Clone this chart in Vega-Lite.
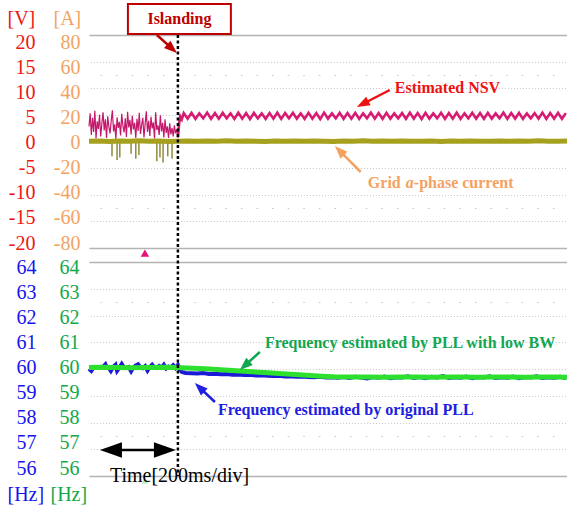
{
"$schema": "https://vega.github.io/schema/vega-lite/v6.json",
"autosize": {"type": "none"},
"padding": {"left": 89, "top": 35, "right": 0, "bottom": 33},
"width": 478,
"height": 441,
"background": "white",
"config": {"view": {"stroke": null}},
"resolve": {"scale": {"y": "independent"}, "axis": {"y": "independent"}},
"datasets": {
"nsvPre": [{"t":-28,"v":3.2},{"t":-25,"v":5.8},{"t":-22,"v":1.5},{"t":-19,"v":4.9},{"t":-16,"v":2.1},{"t":-13,"v":6.3},{"t":-10,"v":0.8},{"t":-7,"v":4.2},{"t":-4,"v":2.7},{"t":-1,"v":5.5},{"t":2,"v":1.2},{"t":5,"v":3.8},{"t":8,"v":6.0},{"t":11,"v":2.4},{"t":14,"v":4.6},{"t":17,"v":0.9},{"t":20,"v":5.2},{"t":23,"v":3.1},{"t":26,"v":1.8},{"t":29,"v":4.4},{"t":32,"v":6.4},{"t":35,"v":2.2},{"t":38,"v":3.6},{"t":41,"v":0.7},{"t":44,"v":5.0},{"t":47,"v":2.9},{"t":50,"v":4.1},{"t":53,"v":1.4},{"t":56,"v":5.7},{"t":59,"v":3.3},{"t":62,"v":2.0},{"t":65,"v":4.8},{"t":68,"v":1.1},{"t":71,"v":6.1},{"t":74,"v":3.0},{"t":77,"v":4.5},{"t":80,"v":1.6},{"t":83,"v":5.3},{"t":86,"v":2.6},{"t":89,"v":3.9},{"t":92,"v":0.9},{"t":95,"v":4.7},{"t":98,"v":2.3},{"t":101,"v":5.9},{"t":104,"v":1.7},{"t":107,"v":3.5},{"t":110,"v":4.9},{"t":113,"v":1.0},{"t":116,"v":3.7},{"t":119,"v":6.2},{"t":122,"v":2.1},{"t":125,"v":4.3},{"t":128,"v":1.3},{"t":131,"v":5.1},{"t":134,"v":2.8},{"t":137,"v":4.0},{"t":140,"v":0.8},{"t":143,"v":6.0},{"t":146,"v":2.5},{"t":149,"v":3.4},{"t":152,"v":1.5},{"t":155,"v":5.4},{"t":158,"v":2.2},{"t":161,"v":3.9},{"t":164,"v":1.0},{"t":167,"v":4.6},{"t":170,"v":1.9},{"t":173,"v":3.2},{"t":176,"v":0.9},{"t":179,"v":3.8},{"t":182,"v":1.6},{"t":185,"v":2.9},{"t":188,"v":1.2},{"t":191,"v":3.4},{"t":194,"v":1.8},{"t":197,"v":2.6},{"t":200,"v":1.0}],
"nsvPost": [{"t":200,"v":1.0},{"t":203,"v":3.6},{"t":206,"v":5.2},{"t":210,"v":4.6},{"t":215,"v":5.85},{"t":225,"v":4.75},{"t":235,"v":5.9},{"t":245,"v":4.7},{"t":255,"v":5.8},{"t":265,"v":4.8},{"t":275,"v":5.95},{"t":285,"v":4.7},{"t":295,"v":5.85},{"t":305,"v":4.75},{"t":315,"v":5.9},{"t":325,"v":4.8},{"t":335,"v":5.8},{"t":345,"v":4.7},{"t":355,"v":5.95},{"t":365,"v":4.75},{"t":375,"v":5.85},{"t":385,"v":4.65},{"t":395,"v":5.9},{"t":405,"v":4.8},{"t":415,"v":5.8},{"t":425,"v":4.7},{"t":435,"v":5.85},{"t":445,"v":4.75},{"t":455,"v":5.95},{"t":465,"v":4.7},{"t":475,"v":5.85},{"t":485,"v":4.8},{"t":495,"v":5.9},{"t":505,"v":4.75},{"t":515,"v":5.8},{"t":525,"v":4.7},{"t":535,"v":5.9},{"t":545,"v":4.75},{"t":555,"v":5.85},{"t":565,"v":4.65},{"t":575,"v":5.95},{"t":585,"v":4.75},{"t":595,"v":5.8},{"t":605,"v":4.8},{"t":615,"v":5.9},{"t":625,"v":4.7},{"t":635,"v":5.85},{"t":645,"v":4.75},{"t":655,"v":5.9},{"t":665,"v":4.7},{"t":675,"v":5.8},{"t":685,"v":4.8},{"t":695,"v":5.95},{"t":705,"v":4.75},{"t":715,"v":5.85},{"t":725,"v":4.7},{"t":735,"v":5.9},{"t":745,"v":4.75},{"t":755,"v":5.8},{"t":765,"v":4.8},{"t":775,"v":5.85},{"t":785,"v":4.7},{"t":795,"v":5.95},{"t":805,"v":4.75},{"t":815,"v":5.85},{"t":825,"v":4.65},{"t":835,"v":5.9},{"t":845,"v":4.75},{"t":855,"v":5.8},{"t":865,"v":4.8},{"t":875,"v":5.9},{"t":885,"v":4.7},{"t":895,"v":5.85},{"t":905,"v":4.75},{"t":915,"v":5.95},{"t":925,"v":4.7},{"t":935,"v":5.8},{"t":945,"v":4.8},{"t":955,"v":5.9},{"t":965,"v":4.75},{"t":975,"v":5.85},{"t":985,"v":4.7},{"t":995,"v":5.9},{"t":1005,"v":4.75},{"t":1015,"v":5.8},{"t":1025,"v":4.8},{"t":1035,"v":5.95},{"t":1045,"v":4.7},{"t":1055,"v":5.85},{"t":1065,"v":4.75},{"t":1075,"v":5.9},{"t":1085,"v":4.7},{"t":1095,"v":5.8},{"t":1105,"v":4.8},{"t":1115,"v":5.85},{"t":1125,"v":4.75},{"t":1135,"v":5.95},{"t":1145,"v":4.7},{"t":1155,"v":5.85},{"t":1165,"v":4.75},{"t":1175,"v":5.9},{"t":1185,"v":4.7},{"t":1195,"v":5.85}],
"current": [{"t":-28,"a":1.0},{"t":0,"a":1.2},{"t":25,"a":0.8},{"t":50,"a":1.1},{"t":75,"a":0.9},{"t":100,"a":1.3},{"t":125,"a":0.9},{"t":150,"a":1.1},{"t":175,"a":0.8},{"t":200,"a":1.0},{"t":225,"a":1.2},{"t":250,"a":0.9},{"t":275,"a":1.1},{"t":300,"a":1.0},{"t":325,"a":1.3},{"t":350,"a":0.9},{"t":375,"a":1.1},{"t":400,"a":1.0},{"t":425,"a":0.8},{"t":450,"a":1.2},{"t":475,"a":1.0},{"t":500,"a":1.1},{"t":525,"a":0.9},{"t":550,"a":1.2},{"t":575,"a":1.0},{"t":600,"a":0.8},{"t":625,"a":1.1},{"t":650,"a":1.0},{"t":675,"a":1.3},{"t":700,"a":0.9},{"t":725,"a":1.1},{"t":750,"a":1.0},{"t":775,"a":1.2},{"t":800,"a":0.9},{"t":825,"a":1.0},{"t":850,"a":1.1},{"t":875,"a":0.8},{"t":900,"a":1.2},{"t":925,"a":1.0},{"t":950,"a":1.1},{"t":975,"a":0.9},{"t":1000,"a":1.0},{"t":1025,"a":1.2},{"t":1050,"a":0.9},{"t":1075,"a":1.1},{"t":1100,"a":1.0},{"t":1125,"a":1.3},{"t":1150,"a":0.9},{"t":1175,"a":1.0},{"t":1198,"a":1.1}],
"spikes": [{"t":31,"lo":-11},{"t":44,"lo":-14},{"t":51,"lo":-12},{"t":80,"lo":-9},{"t":92,"lo":-13},{"t":100,"lo":-10},{"t":146,"lo":-15},{"t":154,"lo":-12},{"t":162,"lo":-16},{"t":174,"lo":-11},{"t":185,"lo":-13}],
"blue": [{"t":-28,"f":59.95},{"t":-22,"f":59.86},{"t":-16,"f":60.0},{"t":-10,"f":60.02},{"t":-4,"f":59.98},{"t":2,"f":60.0},{"t":8,"f":60.03},{"t":14,"f":60.13},{"t":18,"f":59.99},{"t":22,"f":60.0},{"t":28,"f":59.86},{"t":34,"f":60.02},{"t":40,"f":60.11},{"t":44,"f":59.87},{"t":50,"f":60.0},{"t":56,"f":60.14},{"t":62,"f":60.0},{"t":68,"f":59.98},{"t":74,"f":60.02},{"t":80,"f":59.85},{"t":86,"f":60.0},{"t":92,"f":60.08},{"t":98,"f":60.13},{"t":104,"f":60.0},{"t":110,"f":59.97},{"t":116,"f":60.05},{"t":122,"f":59.88},{"t":128,"f":60.02},{"t":134,"f":60.11},{"t":140,"f":60.0},{"t":146,"f":59.98},{"t":152,"f":60.06},{"t":158,"f":60.0},{"t":164,"f":60.11},{"t":170,"f":59.96},{"t":176,"f":60.04},{"t":182,"f":60.0},{"t":188,"f":60.09},{"t":194,"f":59.98},{"t":200,"f":60.1},{"t":205,"f":59.9},{"t":210,"f":59.82},{"t":220,"f":59.78},{"t":235,"f":59.77},{"t":250,"f":59.76},{"t":265,"f":59.78},{"t":280,"f":59.74},{"t":295,"f":59.75},{"t":310,"f":59.73},{"t":325,"f":59.74},{"t":340,"f":59.71},{"t":355,"f":59.72},{"t":370,"f":59.70},{"t":385,"f":59.71},{"t":400,"f":59.68},{"t":415,"f":59.69},{"t":430,"f":59.67},{"t":445,"f":59.66},{"t":460,"f":59.67},{"t":475,"f":59.64},{"t":490,"f":59.65},{"t":505,"f":59.63},{"t":520,"f":59.64},{"t":535,"f":59.62},{"t":550,"f":59.61},{"t":565,"f":59.63},{"t":580,"f":59.60},{"t":595,"f":59.61},{"t":610,"f":59.59},{"t":625,"f":59.62},{"t":640,"f":59.58},{"t":655,"f":59.63},{"t":670,"f":59.60},{"t":685,"f":59.56},{"t":700,"f":59.62},{"t":715,"f":59.59},{"t":730,"f":59.64},{"t":745,"f":59.57},{"t":760,"f":59.61},{"t":775,"f":59.60},{"t":790,"f":59.65},{"t":805,"f":59.58},{"t":820,"f":59.62},{"t":835,"f":59.57},{"t":850,"f":59.63},{"t":865,"f":59.60},{"t":880,"f":59.66},{"t":895,"f":59.58},{"t":910,"f":59.61},{"t":925,"f":59.59},{"t":940,"f":59.64},{"t":955,"f":59.57},{"t":970,"f":59.62},{"t":985,"f":59.60},{"t":1000,"f":59.65},{"t":1015,"f":59.58},{"t":1030,"f":59.61},{"t":1045,"f":59.59},{"t":1060,"f":59.64},{"t":1075,"f":59.57},{"t":1090,"f":59.62},{"t":1105,"f":59.60},{"t":1120,"f":59.65},{"t":1135,"f":59.58},{"t":1150,"f":59.61},{"t":1165,"f":59.59},{"t":1180,"f":59.63},{"t":1195,"f":59.58}],
"green": [{"t":-28,"f":60.0},{"t":0,"f":60.01},{"t":40,"f":60.0},{"t":80,"f":59.99},{"t":120,"f":60.0},{"t":160,"f":60.01},{"t":200,"f":60.0},{"t":210,"f":59.99},{"t":240,"f":59.97},{"t":270,"f":59.95},{"t":300,"f":59.92},{"t":330,"f":59.89},{"t":360,"f":59.86},{"t":390,"f":59.83},{"t":420,"f":59.80},{"t":450,"f":59.77},{"t":480,"f":59.74},{"t":510,"f":59.71},{"t":540,"f":59.68},{"t":570,"f":59.65},{"t":600,"f":59.63},{"t":650,"f":59.62},{"t":690,"f":59.62},{"t":730,"f":59.61},{"t":770,"f":59.62},{"t":810,"f":59.62},{"t":850,"f":59.61},{"t":890,"f":59.62},{"t":930,"f":59.62},{"t":970,"f":59.61},{"t":1010,"f":59.62},{"t":1050,"f":59.62},{"t":1090,"f":59.61},{"t":1130,"f":59.62},{"t":1170,"f":59.62},{"t":1198,"f":59.61}]
},
"layer": [
{"data": {"name": "nsvPre"}, "mark": {"type": "point", "opacity": 0},
 "encoding": {
  "x": {"field": "t", "type": "quantitative", "scale": {"domain": [-28, 1198], "nice": false, "zero": false},
        "axis": {"orient": "bottom", "values": [0, 200, 400, 600, 800, 1000], "labels": false, "ticks": false, "domain": false, "grid": true, "gridColor": "#C4C4C4", "gridDash": [1, 2], "gridWidth": 1, "title": null}},
  "y": {"field": "v", "type": "quantitative", "scale": {"domain": [-20, 20], "range": [213, 0], "nice": false, "zero": false},
        "axis": {"orient": "left", "values": [-20, -15, -12.5, -10, -5, 0, 5, 10, 12.5, 15, 20], "labels": false, "ticks": false, "domain": false, "grid": true, "title": null,
                 "gridColor": {"condition": {"test": "abs(datum.value) == 20", "value": "#B4B4B4"}, "value": "#C6C6C6"},
                 "gridDash": {"condition": [{"test": "abs(datum.value) == 20", "value": []}, {"test": "abs(datum.value) == 12.5", "value": [1.5, 14.1]}], "value": [1, 2]},
                 "gridWidth": {"condition": {"test": "abs(datum.value) == 20", "value": 1.5}, "value": 1},
                 "gridDashOffset": 4.6}}
 }},
{"data": {"name": "blue"}, "mark": {"type": "point", "opacity": 0},
 "encoding": {
  "x": {"field": "t", "type": "quantitative", "scale": {"domain": [-28, 1198], "nice": false, "zero": false}, "axis": null},
  "y": {"field": "f", "type": "quantitative", "scale": {"domain": [56, 64], "range": [441, 227], "nice": false, "zero": false},
        "axis": {"orient": "left", "values": [56, 57, 57.5, 58, 59, 60, 61, 62, 62.5, 63, 64], "labels": false, "ticks": false, "domain": false, "grid": true, "title": null,
                 "gridColor": {"condition": {"test": "datum.value == 56 || datum.value == 64", "value": "#B4B4B4"}, "value": "#C6C6C6"},
                 "gridDash": {"condition": [{"test": "datum.value == 56 || datum.value == 64", "value": []}, {"test": "datum.value == 57.5 || datum.value == 62.5", "value": [1.5, 14.1]}], "value": [1, 2]},
                 "gridWidth": {"condition": {"test": "datum.value == 56 || datum.value == 64", "value": 1.5}, "value": 1},
                 "gridDashOffset": 4.6}}
 }},
{"data": {"values": [{"t": -28, "t2": 1198, "v": -21.39, "v2": -23.58}]}, "mark": {"type": "rect", "color": "white"},
 "encoding": {
  "x": {"field": "t", "type": "quantitative", "scale": {"domain": [-28, 1198], "nice": false, "zero": false}, "axis": null},
  "x2": {"field": "t2"},
  "y": {"field": "v", "type": "quantitative", "scale": {"domain": [-20, 20], "range": [208, 7], "nice": false, "zero": false}, "axis": null},
  "y2": {"field": "v2"}
 }},
{"data": {"name": "nsvPre"}, "mark": {"type": "line", "color": "#C4186A", "strokeWidth": 1.2},
 "encoding": {
  "x": {"field": "t", "type": "quantitative", "scale": {"domain": [-28, 1198], "nice": false, "zero": false}, "axis": null},
  "y": {"field": "v", "type": "quantitative", "scale": {"domain": [-20, 20], "range": [208, 7], "nice": false, "zero": false},
        "axis": {"orient": "left", "offset": 54, "values": [20, 15, 10, 5, 0, -5, -10, -15, -20], "labelExpr": "'' + datum.value", "labelColor": "#F01414", "labelFont": "Liberation Serif, Times New Roman, serif", "labelFontSize": 20, "labelPadding": 0, "ticks": false, "tickSize": 0, "domain": false, "grid": false, "labelFlush": false, "labelOverlap": false,
                 "title": "[V]", "titleColor": "#F01414", "titleFont": "Liberation Serif, Times New Roman, serif", "titleFontSize": 20, "titleFontWeight": "normal", "titleAngle": 0, "titleAlign": "left", "titleBaseline": "alphabetic", "titleX": -28, "titleY": -11}}
 }},
{"data": {"name": "nsvPost"}, "mark": {"type": "line", "color": "#D81B72", "strokeWidth": 2.6},
 "encoding": {
  "x": {"field": "t", "type": "quantitative", "scale": {"domain": [-28, 1198], "nice": false, "zero": false}, "axis": null},
  "y": {"field": "v", "type": "quantitative", "scale": {"domain": [-20, 20], "range": [208, 7], "nice": false, "zero": false}, "axis": null}
 }},
{"data": {"name": "spikes"}, "mark": {"type": "rule", "color": "#8E8C3A", "strokeWidth": 1.5},
 "encoding": {
  "x": {"field": "t", "type": "quantitative", "scale": {"domain": [-28, 1198], "nice": false, "zero": false}, "axis": null},
  "y": {"field": "lo", "type": "quantitative", "scale": {"domain": [-80, 80], "range": [208, 7], "nice": false, "zero": false}, "axis": null},
  "y2": {"datum": 0}
 }},
{"data": {"name": "current"}, "mark": {"type": "line", "color": "#A5A11F", "strokeWidth": 5},
 "encoding": {
  "x": {"field": "t", "type": "quantitative", "scale": {"domain": [-28, 1198], "nice": false, "zero": false}, "axis": null},
  "y": {"field": "a", "type": "quantitative", "scale": {"domain": [-80, 80], "range": [208, 7], "nice": false, "zero": false},
        "axis": {"orient": "left", "offset": 9, "values": [80, 60, 40, 20, 0, -20, -40, -60, -80], "labelExpr": "'' + datum.value", "labelColor": "#F4A262", "labelFont": "Liberation Serif, Times New Roman, serif", "labelFontSize": 20, "labelPadding": 0, "ticks": false, "tickSize": 0, "domain": false, "grid": false, "labelFlush": false, "labelOverlap": false,
                 "title": "[A]", "titleColor": "#F4A262", "titleFont": "Liberation Serif, Times New Roman, serif", "titleFontSize": 20, "titleFontWeight": "normal", "titleAngle": 0, "titleAlign": "left", "titleBaseline": "alphabetic", "titleX": -27, "titleY": -11}}
 }},
{"data": {"name": "blue"}, "mark": {"type": "line", "color": "#1A1AD8", "strokeWidth": 4},
 "encoding": {
  "x": {"field": "t", "type": "quantitative", "scale": {"domain": [-28, 1198], "nice": false, "zero": false}, "axis": null},
  "y": {"field": "f", "type": "quantitative", "scale": {"domain": [56, 64], "range": [433, 232], "nice": false, "zero": false},
        "axis": {"orient": "left", "offset": 53, "values": [64, 63, 62, 61, 60, 59, 58, 57, 56], "labelColor": "#1414F0", "labelFont": "Liberation Serif, Times New Roman, serif", "labelFontSize": 20, "labelPadding": 0, "ticks": false, "tickSize": 0, "domain": false, "grid": false, "labelFlush": false, "labelOverlap": false,
                 "title": "[Hz]", "titleColor": "#1414F0", "titleFont": "Liberation Serif, Times New Roman, serif", "titleFontSize": 20, "titleFontWeight": "normal", "titleAngle": 0, "titleAlign": "left", "titleBaseline": "alphabetic", "titleX": -29, "titleY": 465}}
 }},
{"data": {"name": "green"}, "mark": {"type": "line", "color": "#2EE02E", "strokeWidth": 5},
 "encoding": {
  "x": {"field": "t", "type": "quantitative", "scale": {"domain": [-28, 1198], "nice": false, "zero": false}, "axis": null},
  "y": {"field": "f", "type": "quantitative", "scale": {"domain": [56, 64], "range": [433, 232], "nice": false, "zero": false},
        "axis": {"orient": "left", "offset": 10, "values": [64, 63, 62, 61, 60, 59, 58, 57, 56], "labelColor": "#12A84A", "labelFont": "Liberation Serif, Times New Roman, serif", "labelFontSize": 20, "labelPadding": 0, "ticks": false, "tickSize": 0, "domain": false, "grid": false, "labelFlush": false, "labelOverlap": false,
                 "title": "[Hz]", "titleColor": "#12A84A", "titleFont": "Liberation Serif, Times New Roman, serif", "titleFontSize": 20, "titleFontWeight": "normal", "titleAngle": 0, "titleAlign": "left", "titleBaseline": "alphabetic", "titleX": -29, "titleY": 465}}
 }},
{"data": {"values": [{"t": 200}]}, "mark": {"type": "rule", "color": "black", "strokeWidth": 2.5, "strokeDash": [3, 2.5]},
 "encoding": {
  "x": {"field": "t", "type": "quantitative", "scale": {"domain": [-28, 1198], "nice": false, "zero": false}, "axis": null}
 }},
{"data": {"values": [{"t": 115.4, "v": -22.0}]}, "mark": {"type": "point", "shape": "triangle-up", "filled": true, "size": 70, "color": "#E8107A", "opacity": 1},
 "encoding": {
  "x": {"field": "t", "type": "quantitative", "scale": {"domain": [-28, 1198], "nice": false, "zero": false}, "axis": null},
  "y": {"field": "v", "type": "quantitative", "scale": {"domain": [-20, 20], "range": [208, 7], "nice": false, "zero": false}, "axis": null}
 }},
{"data": {"values": [{"t": 115.4, "f": 55.48}]}, "mark": {"type": "point", "shape": "triangle-up", "filled": true, "size": 40, "color": "#B8F0B8", "opacity": 1},
 "encoding": {
  "x": {"field": "t", "type": "quantitative", "scale": {"domain": [-28, 1198], "nice": false, "zero": false}, "axis": null},
  "y": {"field": "f", "type": "quantitative", "scale": {"domain": [56, 64], "range": [433, 232], "nice": false, "zero": false}, "axis": null}
 }},
{"data": {"values": [{"t": 71.8, "t2": 335.9, "v": 21.6, "v2": 27.56}]}, "mark": {"type": "rect", "fill": "white", "stroke": "#C00000", "strokeWidth": 2},
 "encoding": {
  "x": {"field": "t", "type": "quantitative", "scale": {"domain": [-28, 1198], "nice": false, "zero": false}, "axis": null},
  "x2": {"field": "t2"},
  "y": {"field": "v", "type": "quantitative", "scale": {"domain": [-20, 20], "range": [208, 7], "nice": false, "zero": false}, "axis": null},
  "y2": {"field": "v2"}
 }},
{"data": {"values": [{"t": 146.1, "v": 21.4, "t2": 185.1, "v2": 18.67, "k": "island"}, {"t": 743.6, "v": 10.45, "t2": 673.8, "v2": 7.66, "k": "nsv"}, {"t": 669, "v": -5.87, "t2": 614.3, "v2": -1.61, "k": "cur"}]},
 "mark": {"type": "rule", "strokeWidth": 2.5},
 "encoding": {
  "x": {"field": "t", "type": "quantitative", "scale": {"domain": [-28, 1198], "nice": false, "zero": false}, "axis": null},
  "x2": {"field": "t2"},
  "y": {"field": "v", "type": "quantitative", "scale": {"domain": [-20, 20], "range": [208, 7], "nice": false, "zero": false}, "axis": null},
  "y2": {"field": "v2"},
  "color": {"field": "k", "type": "nominal", "scale": {"domain": ["island", "nsv", "cur", "lowbw", "orig", "time"], "range": ["#C00000", "#EE1111", "#F4A262", "#12A650", "#2020E0", "#000000"]}, "legend": null}
 }},
{"data": {"values": [{"t": 185.1, "v": 18.67}]}, "mark": {"type": "point", "shape": "M0,-1L0.75,1L-0.75,1Z", "angle": 132, "filled": true, "size": 169, "color": "#C00000", "opacity": 1},
 "encoding": {
  "x": {"field": "t", "type": "quantitative", "scale": {"domain": [-28, 1198], "nice": false, "zero": false}, "axis": null},
  "y": {"field": "v", "type": "quantitative", "scale": {"domain": [-20, 20], "range": [208, 7], "nice": false, "zero": false}, "axis": null}
 }},
{"data": {"values": [{"t": 673.8, "v": 7.66}]}, "mark": {"type": "point", "shape": "M0,-1L0.75,1L-0.75,1Z", "angle": 242.7, "filled": true, "size": 169, "color": "#EE1111", "opacity": 1},
 "encoding": {
  "x": {"field": "t", "type": "quantitative", "scale": {"domain": [-28, 1198], "nice": false, "zero": false}, "axis": null},
  "y": {"field": "v", "type": "quantitative", "scale": {"domain": [-20, 20], "range": [208, 7], "nice": false, "zero": false}, "axis": null}
 }},
{"data": {"values": [{"t": 614.3, "v": -1.61}]}, "mark": {"type": "point", "shape": "M0,-1L0.75,1L-0.75,1Z", "angle": 315, "filled": true, "size": 169, "color": "#F4A262", "opacity": 1},
 "encoding": {
  "x": {"field": "t", "type": "quantitative", "scale": {"domain": [-28, 1198], "nice": false, "zero": false}, "axis": null},
  "y": {"field": "v", "type": "quantitative", "scale": {"domain": [-20, 20], "range": [208, 7], "nice": false, "zero": false}, "axis": null}
 }},
{"data": {"values": [{"t": 121.8, "v": 24.58, "label": "Islanding", "k": "island"}, {"t": 756.4, "v": 10.75, "label": "Estimated NSV", "k": "nsv"}, {"t": 687.2, "v": -8.06, "label": "Grid", "k": "cur"}, {"t": 805.1, "v": -8.06, "label": "-phase current", "k": "cur"}]},
 "mark": {"type": "text", "font": "Liberation Serif, Times New Roman, serif", "fontSize": 16, "fontWeight": "bold", "align": "left", "baseline": "middle"},
 "encoding": {
  "x": {"field": "t", "type": "quantitative", "scale": {"domain": [-28, 1198], "nice": false, "zero": false}, "axis": null},
  "y": {"field": "v", "type": "quantitative", "scale": {"domain": [-20, 20], "range": [208, 7], "nice": false, "zero": false}, "axis": null},
  "text": {"field": "label"},
  "color": {"field": "k", "type": "nominal", "scale": {"domain": ["island", "nsv", "cur", "lowbw", "orig", "time"], "range": ["#C00000", "#EE1111", "#F4A262", "#12A650", "#2020E0", "#000000"]}, "legend": null}
 }},
{"data": {"values": [{"t": 784.6, "v": -8.06, "label": "a"}]},
 "mark": {"type": "text", "font": "Liberation Serif, Times New Roman, serif", "fontSize": 16, "fontWeight": "bold", "fontStyle": "italic", "align": "left", "baseline": "middle", "color": "#F4A262"},
 "encoding": {
  "x": {"field": "t", "type": "quantitative", "scale": {"domain": [-28, 1198], "nice": false, "zero": false}, "axis": null},
  "y": {"field": "v", "type": "quantitative", "scale": {"domain": [-20, 20], "range": [208, 7], "nice": false, "zero": false}, "axis": null},
  "text": {"field": "label"}
 }},
{"data": {"values": [{"t": 410.2, "f": 60.617, "t2": 371.3, "f2": 60.072, "k": "lowbw"}, {"t": 294.9, "f": 58.627, "t2": 255.6, "f2": 59.204, "k": "orig"}, {"t": 28.2, "f": 56.716, "t2": 166.7, "f2": 56.716, "k": "time"}]},
 "mark": {"type": "rule", "strokeWidth": 2.5},
 "encoding": {
  "x": {"field": "t", "type": "quantitative", "scale": {"domain": [-28, 1198], "nice": false, "zero": false}, "axis": null},
  "x2": {"field": "t2"},
  "y": {"field": "f", "type": "quantitative", "scale": {"domain": [56, 64], "range": [433, 232], "nice": false, "zero": false}, "axis": null},
  "y2": {"field": "f2"},
  "color": {"field": "k", "type": "nominal", "scale": {"domain": ["island", "nsv", "cur", "lowbw", "orig", "time"], "range": ["#C00000", "#EE1111", "#F4A262", "#12A650", "#2020E0", "#000000"]}, "legend": null}
 }},
{"data": {"values": [{"t": 371.3, "f": 60.072}]}, "mark": {"type": "point", "shape": "M0,-1L0.75,1L-0.75,1Z", "angle": 228, "filled": true, "size": 169, "color": "#12A650", "opacity": 1},
 "encoding": {
  "x": {"field": "t", "type": "quantitative", "scale": {"domain": [-28, 1198], "nice": false, "zero": false}, "axis": null},
  "y": {"field": "f", "type": "quantitative", "scale": {"domain": [56, 64], "range": [433, 232], "nice": false, "zero": false}, "axis": null}
 }},
{"data": {"values": [{"t": 255.6, "f": 59.204}]}, "mark": {"type": "point", "shape": "M0,-1L0.75,1L-0.75,1Z", "angle": 313.5, "filled": true, "size": 169, "color": "#2020E0", "opacity": 1},
 "encoding": {
  "x": {"field": "t", "type": "quantitative", "scale": {"domain": [-28, 1198], "nice": false, "zero": false}, "axis": null},
  "y": {"field": "f", "type": "quantitative", "scale": {"domain": [56, 64], "range": [433, 232], "nice": false, "zero": false}, "axis": null}
 }},
{"data": {"values": [{"t": 28.2, "f": 56.716}]}, "mark": {"type": "point", "shape": "M0,-1L0.7,1L-0.7,1Z", "angle": 270, "filled": true, "size": 484, "color": "#000000", "opacity": 1},
 "encoding": {
  "x": {"field": "t", "type": "quantitative", "scale": {"domain": [-28, 1198], "nice": false, "zero": false}, "axis": null},
  "y": {"field": "f", "type": "quantitative", "scale": {"domain": [56, 64], "range": [433, 232], "nice": false, "zero": false}, "axis": null}
 }},
{"data": {"values": [{"t": 166.7, "f": 56.716}]}, "mark": {"type": "point", "shape": "M0,-1L0.7,1L-0.7,1Z", "angle": 90, "filled": true, "size": 484, "color": "#000000", "opacity": 1},
 "encoding": {
  "x": {"field": "t", "type": "quantitative", "scale": {"domain": [-28, 1198], "nice": false, "zero": false}, "axis": null},
  "y": {"field": "f", "type": "quantitative", "scale": {"domain": [56, 64], "range": [433, 232], "nice": false, "zero": false}, "axis": null}
 }},
{"data": {"values": [{"t": 423.1, "f": 60.98, "label": "Frequency estimated by PLL with low BW", "k": "lowbw"}, {"t": 302.6, "f": 58.29, "label": "Frequency estimated by original PLL", "k": "orig"}]},
 "mark": {"type": "text", "font": "Liberation Serif, Times New Roman, serif", "fontSize": 16, "fontWeight": "bold", "align": "left", "baseline": "middle"},
 "encoding": {
  "x": {"field": "t", "type": "quantitative", "scale": {"domain": [-28, 1198], "nice": false, "zero": false}, "axis": null},
  "y": {"field": "f", "type": "quantitative", "scale": {"domain": [56, 64], "range": [433, 232], "nice": false, "zero": false}, "axis": null},
  "text": {"field": "label"},
  "color": {"field": "k", "type": "nominal", "scale": {"domain": ["island", "nsv", "cur", "lowbw", "orig", "time"], "range": ["#C00000", "#EE1111", "#F4A262", "#12A650", "#2020E0", "#000000"]}, "legend": null}
 }},
{"data": {"values": [{"t": 25.6, "f": 55.44, "label": "Time[200ms/div]"}]},
 "mark": {"type": "text", "font": "Liberation Serif, Times New Roman, serif", "fontSize": 20, "align": "left", "baseline": "alphabetic", "color": "#000000"},
 "encoding": {
  "x": {"field": "t", "type": "quantitative", "scale": {"domain": [-28, 1198], "nice": false, "zero": false}, "axis": null},
  "y": {"field": "f", "type": "quantitative", "scale": {"domain": [56, 64], "range": [433, 232], "nice": false, "zero": false}, "axis": null},
  "text": {"field": "label"}
 }}
]
}
